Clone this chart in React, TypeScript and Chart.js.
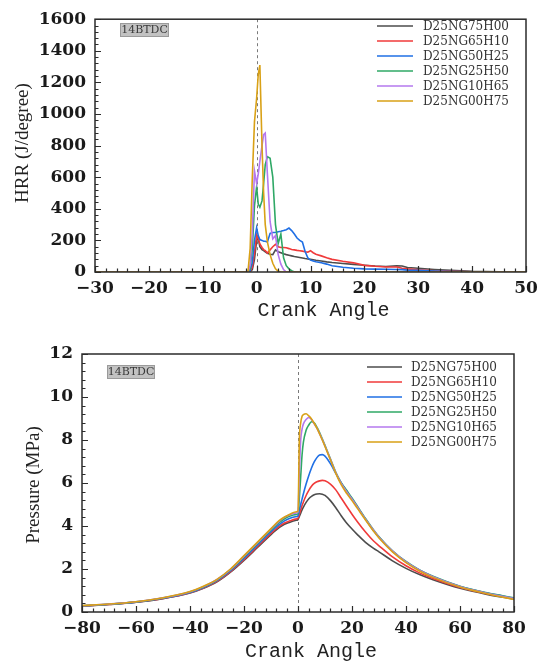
import React, { useEffect, useRef } from "react";
import { Chart, registerables } from "chart.js";
Chart.register(...registerables);

// ---------- data ----------
const seriesNames = ["D25NG75H00", "D25NG65H10", "D25NG50H25", "D25NG25H50", "D25NG10H65", "D25NG00H75"];
const seriesColors = ["#4d4d4d", "#f03a3a", "#1f6fe5", "#2fa866", "#b478ee", "#d9a116"];
const caseLabel = "14BTDC";

// Heat release rate (J/degree) vs crank angle
const hrrAngles = [-30, -5, -2, -1.6, -1.2, -0.8, -0.4, 0, 0.3, 0.6, 1, 1.3, 1.6, 2, 2.5, 3, 3.5, 4, 4.5, 5, 5.5, 6, 6.5, 7, 7.5, 8, 8.5, 9, 9.5, 10, 10.5, 11, 12, 13, 14, 16, 18, 20, 22, 24, 26, 27, 28, 30, 33, 36, 40, 45, 50];
const hrrNG75H00 = [0, 0, 0, 0, 2, 15, 80, 200, 215, 160, 142, 135, 128, 119, 112, 110, 140, 128, 122, 115, 110, 106, 102, 98, 95, 92, 89, 85, 82, 80, 77, 74, 70, 64, 60, 54, 48, 43, 38, 35, 40, 38, 28, 24, 16, 10, 4, 1, 0];
const hrrNG65H10 = [0, 0, 0, 0, 5, 30, 120, 235, 210, 178, 155, 142, 135, 120, 140, 160, 175, 160, 155, 155, 153, 148, 142, 140, 137, 135, 132, 128, 126, 135, 122, 112, 102, 90, 80, 68, 58, 42, 36, 32, 32, 24, 20, 14, 8, 5, 2, 0, 0];
const hrrNG50H25 = [0, 0, 0, 0, 10, 60, 200, 280, 230, 205, 200, 195, 195, 190, 245, 250, 250, 255, 258, 262, 268, 278, 262, 240, 215, 200, 190, 130, 90, 75, 70, 65, 58, 50, 40, 30, 24, 20, 18, 17, 16, 15, 12, 10, 6, 3, 1, 0, 0];
const hrrNG25H50 = [0, 0, 0, 0, 20, 150, 420, 540, 430, 410, 450, 560, 680, 730, 720, 600, 300, 180, 240, 90, 40, 20, 8, 0, 0, 0, 0, 0, 0, 0, 0, 0, 0, 0, 0, 0, 0, 0, 0, 0, 0, 0, 0, 0, 0, 0, 0, 0, 0];
const hrrNG10H65 = [0, 0, 0, 0, 40, 250, 640, 560, 620, 700, 800, 870, 880, 620, 320, 210, 230, 110, 50, 15, 0, 0, 0, 0, 0, 0, 0, 0, 0, 0, 0, 0, 0, 0, 0, 0, 0, 0, 0, 0, 0, 0, 0, 0, 0, 0, 0, 0, 0];
const hrrNG00H75 = [0, 0, 0, 5, 150, 600, 950, 1100, 1250, 1310, 800, 500, 300, 190, 110, 55, 20, 5, 0, 0, 0, 0, 0, 0, 0, 0, 0, 0, 0, 0, 0, 0, 0, 0, 0, 0, 0, 0, 0, 0, 0, 0, 0, 0, 0, 0, 0, 0, 0];

// Cylinder pressure (MPa) vs crank angle
const pAngles = [-80, -70, -60, -50, -40, -35, -30, -25, -20, -15, -10, -7, -5, -3, -1, 0, 0.5, 1, 1.5, 2, 3, 4, 5, 6, 7, 8, 9, 10, 12, 14, 16, 18, 20, 22, 25, 28, 30, 35, 40, 45, 50, 60, 70, 80];
const pNG75H00 = [0.27, 0.35, 0.45, 0.62, 0.88, 1.1, 1.4, 1.85, 2.4, 3.0, 3.6, 3.92, 4.08, 4.18, 4.26, 4.3, 4.45, 4.6, 4.75, 4.88, 5.1, 5.27, 5.38, 5.45, 5.49, 5.5, 5.48, 5.42, 5.18, 4.85, 4.48, 4.14, 3.86, 3.6, 3.24, 2.96, 2.8, 2.38, 2.03, 1.74, 1.5, 1.1, 0.82, 0.6];
const pNG65H10 = [0.28, 0.35, 0.46, 0.63, 0.9, 1.12, 1.43, 1.88, 2.44, 3.05, 3.66, 3.98, 4.14, 4.24, 4.32, 4.36, 4.55, 4.75, 4.95, 5.12, 5.42, 5.66, 5.85, 5.98, 6.06, 6.1, 6.12, 6.1, 5.95, 5.68, 5.3, 4.92, 4.55, 4.2, 3.72, 3.3, 3.08, 2.56, 2.15, 1.82, 1.56, 1.14, 0.85, 0.62];
const pNG50H25 = [0.28, 0.36, 0.46, 0.64, 0.91, 1.14, 1.46, 1.92, 2.5, 3.12, 3.74, 4.06, 4.24, 4.36, 4.43, 4.47, 4.75, 5.0, 5.25, 5.5, 5.95, 6.35, 6.7, 6.98, 7.18, 7.3, 7.32, 7.25, 6.9, 6.45, 6.0, 5.62, 5.25, 4.88, 4.32, 3.78, 3.48, 2.82, 2.32, 1.94, 1.64, 1.18, 0.88, 0.65];
const pNG25H50 = [0.29, 0.36, 0.47, 0.65, 0.93, 1.16, 1.49, 1.96, 2.56, 3.19, 3.82, 4.16, 4.34, 4.46, 4.53, 4.57, 5.3, 6.3, 7.3, 7.9, 8.45, 8.7, 8.85, 8.8, 8.6, 8.35, 8.05, 7.75, 7.12, 6.5, 6.02, 5.66, 5.3, 4.92, 4.35, 3.82, 3.5, 2.85, 2.35, 1.96, 1.66, 1.2, 0.89, 0.66];
const pNG10H65 = [0.29, 0.37, 0.48, 0.66, 0.94, 1.18, 1.51, 1.98, 2.6, 3.22, 3.86, 4.22, 4.4, 4.52, 4.6, 4.64, 6.5, 8.0, 8.5, 8.75, 8.95, 9.05, 8.95, 8.75, 8.55, 8.3, 8.02, 7.72, 7.1, 6.48, 5.98, 5.6, 5.25, 4.88, 4.32, 3.8, 3.48, 2.83, 2.33, 1.94, 1.64, 1.18, 0.87, 0.63];
const pNG00H75 = [0.3, 0.37, 0.48, 0.66, 0.95, 1.2, 1.52, 2.0, 2.62, 3.25, 3.88, 4.25, 4.42, 4.55, 4.65, 4.7, 8.0, 8.8, 9.1, 9.18, 9.22, 9.12, 8.98, 8.78, 8.55, 8.28, 8.0, 7.7, 7.08, 6.45, 5.92, 5.52, 5.18, 4.82, 4.28, 3.76, 3.44, 2.8, 2.3, 1.91, 1.61, 1.16, 0.85, 0.58];

const hrrSeries = [hrrNG75H00, hrrNG65H10, hrrNG50H25, hrrNG25H50, hrrNG10H65, hrrNG00H75];
const pSeries = [pNG75H00, pNG65H10, pNG50H25, pNG25H50, pNG10H65, pNG00H75];

const xTitle = "Crank Angle";
const hrrTitle = "HRR (J/degree)";
const pTitle = "Pressure (MPa)";

// ---------- helpers ----------
const fmt = (v: number) => (v < 0 ? "\u2212" + Math.abs(v) : String(v));

type Cfg = {
  key: string;
  w: number;
  h: number;
  padTop: number;
  padRight: number;
  yAxisW: number;
  xAxisH: number;
  xMin: number; xMax: number; xStep: number; xMinor: number;
  yMin: number; yMax: number; yStep: number; yMinor: number;
  xPad: number; yPad: number;
  smooth: boolean;
  xTitleY: number; xTitleDx: number;
  yTitleX: number; yTitleY: number;
  legX0: number; legX1: number; legTextX: number; legY0: number; legDy: number;
  box: { x: number; y: number; w: number; h: number };
  yTitle: string;
};

function decorPlugin(cfg: Cfg) {
  return {
    id: "decor_" + cfg.key,
    beforeDatasetsDraw(chart: any) {
      const { ctx, chartArea: a, scales } = chart;
      const x0 = Math.round(scales.x.getPixelForValue(0)) + 0.5;
      ctx.save();
      ctx.strokeStyle = "#7a7a7a";
      ctx.lineWidth = 1;
      ctx.setLineDash([3, 3]);
      ctx.beginPath();
      ctx.moveTo(x0, a.top);
      ctx.lineTo(x0, a.bottom);
      ctx.stroke();
      ctx.restore();
    },
    afterDraw(chart: any) {
      const { ctx, chartArea: a, scales } = chart;
      ctx.save();
      // frame
      ctx.strokeStyle = "#2b2b2b";
      ctx.lineWidth = 1.5;
      ctx.strokeRect(a.left, a.top, a.right - a.left, a.bottom - a.top);
      // inward ticks
      ctx.lineWidth = 1.2;
      ctx.beginPath();
      const eps = 1e-6;
      for (let v = cfg.xMin; v <= cfg.xMax + eps; v += cfg.xMinor) {
        const px = Math.round(scales.x.getPixelForValue(v)) + 0.5;
        const r = v / cfg.xStep;
        const major = Math.abs(r - Math.round(r)) < 1e-4;
        const len = major ? 6 : 3.5;
        ctx.moveTo(px, a.bottom);
        ctx.lineTo(px, a.bottom - len);
      }
      for (let v = cfg.yMin; v <= cfg.yMax + eps; v += cfg.yMinor) {
        const py = Math.round(scales.y.getPixelForValue(v)) + 0.5;
        const r = v / cfg.yStep;
        const major = Math.abs(r - Math.round(r)) < 1e-4;
        const len = major ? 6 : 3.5;
        ctx.moveTo(a.left, py);
        ctx.lineTo(a.left + len, py);
      }
      ctx.stroke();

      // label box
      const b = cfg.box;
      ctx.fillStyle = "#c2c2c2";
      ctx.fillRect(b.x, b.y, b.w, b.h);
      ctx.strokeStyle = "#9a9a9a";
      ctx.lineWidth = 1;
      ctx.strokeRect(b.x + 0.5, b.y + 0.5, b.w - 1, b.h - 1);
      ctx.fillStyle = "#3a3a3a";
      ctx.font = "11px 'DejaVu Serif'";
      ctx.textAlign = "center";
      ctx.textBaseline = "middle";
      ctx.fillText(caseLabel, b.x + b.w / 2, b.y + b.h / 2 + 0.5);

      // legend
      ctx.font = "12px 'DejaVu Serif'";
      ctx.textAlign = "left";
      ctx.textBaseline = "middle";
      chart.data.datasets.forEach((ds: any, i: number) => {
        const y = cfg.legY0 + i * cfg.legDy;
        ctx.strokeStyle = ds.borderColor;
        ctx.lineWidth = 1.6;
        ctx.beginPath();
        ctx.moveTo(cfg.legX0, y);
        ctx.lineTo(cfg.legX1, y);
        ctx.stroke();
        ctx.fillStyle = "#333";
        ctx.fillText(ds.label, cfg.legTextX, y + 0.5);
      });

      // axis titles
      ctx.fillStyle = "#222";
      ctx.font = "20px 'Liberation Mono'";
      ctx.textAlign = "center";
      ctx.textBaseline = "middle";
      ctx.fillText(xTitle, (a.left + a.right) / 2 + cfg.xTitleDx, cfg.xTitleY);
      ctx.translate(cfg.yTitleX, cfg.yTitleY);
      ctx.rotate(-Math.PI / 2);
      ctx.font = "19px 'Liberation Serif'";
      ctx.fillText(cfg.yTitle, 0, 0);
      ctx.restore();
    },
  };
}

function ChartPanel({ cfg, xs, series }: { cfg: Cfg; xs: number[]; series: number[][] }) {
  const ref = useRef<HTMLCanvasElement | null>(null);
  useEffect(() => {
    if (!ref.current) return;
    const n = series.length;
    const tickFont = { family: "'DejaVu Serif'", size: 17, weight: "bold" };
    const chart = new Chart(ref.current, {
      type: "line",
      data: {
        datasets: series.map((vals, i) => ({
          label: seriesNames[i],
          data: xs.map((x, j) => ({ x, y: vals[j] })),
          borderColor: seriesColors[i],
          backgroundColor: seriesColors[i],
          borderWidth: 1.6,
          pointRadius: 0,
          fill: false,
          tension: 0,
          cubicInterpolationMode: cfg.smooth ? "monotone" : "default",
          order: n - 1 - i,
        })),
      },
      options: {
        animation: false,
        responsive: false,
        events: [],
        layout: { padding: { top: cfg.padTop, right: cfg.padRight, left: 0, bottom: 0 } },
        plugins: { legend: { display: false }, tooltip: { enabled: false }, title: { display: false } },
        scales: {
          x: {
            type: "linear",
            min: cfg.xMin,
            max: cfg.xMax,
            ticks: {
              stepSize: cfg.xStep,
              font: tickFont,
              color: "#1a1a1a",
              padding: cfg.xPad,
              maxRotation: 0,
              autoSkip: false,
              callback: (v: any) => fmt(Number(v)),
            },
            grid: { display: false, drawTicks: false },
            border: { display: false },
            afterFit: (s: any) => {
              s.height = cfg.xAxisH;
            },
          },
          y: {
            type: "linear",
            min: cfg.yMin,
            max: cfg.yMax,
            ticks: {
              stepSize: cfg.yStep,
              font: tickFont,
              color: "#1a1a1a",
              padding: cfg.yPad,
              autoSkip: false,
              callback: (v: any) => fmt(Number(v)),
            },
            grid: { display: false, drawTicks: false },
            border: { display: false },
            afterFit: (s: any) => {
              s.width = cfg.yAxisW;
            },
          },
        },
      } as any,
      plugins: [decorPlugin(cfg)],
    });
    return () => chart.destroy();
  }, []);
  return <canvas ref={ref} width={cfg.w} height={cfg.h} style={{ display: "block", width: cfg.w, height: cfg.h }} />;
}

const hrrCfg: Cfg = {
  key: "hrr",
  w: 545, h: 330,
  padTop: 13, padRight: 19,
  yAxisW: 95, xAxisH: 58,
  xMin: -30, xMax: 50, xStep: 10, xMinor: 2,
  yMin: 0, yMax: 1600, yStep: 200, yMinor: 40,
  xPad: 6, yPad: 9,
  smooth: false,
  xTitleY: 311, xTitleDx: 13,
  yTitleX: 23, yTitleY: 143,
  legX0: 377, legX1: 413, legTextX: 423, legY0: 26, legDy: 15,
  box: { x: 120, y: 23, w: 49, h: 14 },
  yTitle: hrrTitle,
};

const pCfg: Cfg = {
  key: "p",
  w: 545, h: 333,
  padTop: 24, padRight: 31,
  yAxisW: 82, xAxisH: 51,
  xMin: -80, xMax: 80, xStep: 20, xMinor: 4,
  yMin: 0, yMax: 12, yStep: 2, yMinor: 0.4,
  xPad: 6, yPad: 9,
  smooth: true,
  xTitleY: 322, xTitleDx: 13,
  yTitleX: 34, yTitleY: 155,
  legX0: 367, legX1: 402, legTextX: 411, legY0: 37, legDy: 15,
  box: { x: 107, y: 35, w: 48, h: 14 },
  yTitle: pTitle,
};

export default function App() {
  return (
    <div style={{ position: "absolute", left: 0, top: 0, width: 545, height: 663, background: "#fff" }}>
      <div style={{ position: "absolute", left: 0, top: 0 }}>
        <ChartPanel cfg={hrrCfg} xs={hrrAngles} series={hrrSeries} />
      </div>
      <div style={{ position: "absolute", left: 0, top: 330 }}>
        <ChartPanel cfg={pCfg} xs={pAngles} series={pSeries} />
      </div>
    </div>
  );
}
